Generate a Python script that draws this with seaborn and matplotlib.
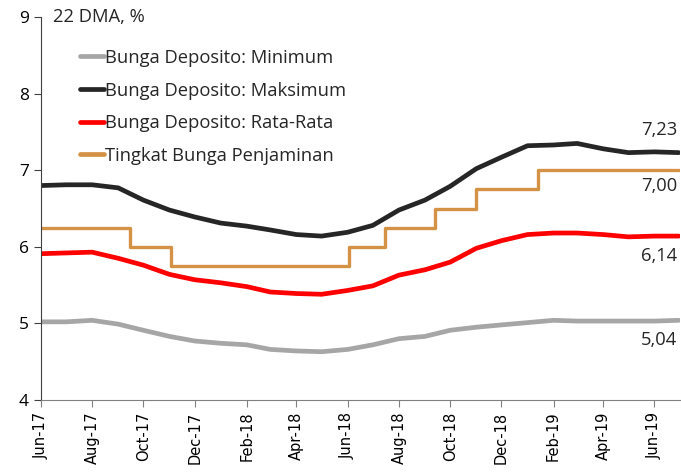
import matplotlib
matplotlib.use("Agg")
import matplotlib.pyplot as plt
import matplotlib.dates as mdates
import numpy as np
import pandas as pd
import seaborn as sns

# monthly readings (22 DMA, %)
dates = pd.to_datetime(['2017-06-01', '2017-07-01', '2017-08-01', '2017-09-01', '2017-10-01',
                        '2017-11-01', '2017-12-01', '2018-01-01', '2018-02-01', '2018-03-01',
                        '2018-04-01', '2018-05-01', '2018-06-01', '2018-07-01', '2018-08-01',
                        '2018-09-01', '2018-10-01', '2018-11-01', '2018-12-01', '2019-01-01',
                        '2019-02-01', '2019-03-01', '2019-04-01', '2019-05-01', '2019-06-01',
                        '2019-06-30'])
bunga_min = [5.02, 5.02, 5.04, 4.99, 4.91, 4.83, 4.77, 4.74, 4.72, 4.66, 4.64, 4.63, 4.66,
             4.72, 4.80, 4.83, 4.91, 4.95, 4.98, 5.01, 5.04, 5.03, 5.03, 5.03, 5.03, 5.04]
bunga_max = [6.80, 6.81, 6.81, 6.77, 6.61, 6.48, 6.39, 6.31, 6.27, 6.22, 6.16, 6.14, 6.19,
             6.28, 6.48, 6.61, 6.79, 7.02, 7.17, 7.32, 7.33, 7.35, 7.28, 7.23, 7.24, 7.23]
bunga_avg = [5.91, 5.92, 5.93, 5.85, 5.76, 5.64, 5.57, 5.53, 5.48, 5.41, 5.39, 5.38, 5.43,
             5.49, 5.63, 5.70, 5.80, 5.98, 6.08, 6.16, 6.18, 6.18, 6.16, 6.13, 6.14, 6.14]

# LPS guarantee rate: change dates and levels
lps_dates = pd.to_datetime(['2017-06-01', '2017-09-15', '2017-11-03', '2018-06-03', '2018-07-15',
                            '2018-09-13', '2018-11-01', '2019-01-13', '2019-06-30'])
lps_rate = [6.25, 6.00, 5.75, 6.00, 6.25, 6.50, 6.75, 7.00, 7.00]

labels = ['Bunga Deposito: Minimum', 'Bunga Deposito: Maksimum',
          'Bunga Deposito: Rata-Rata', 'Tingkat Bunga Penjaminan']
colors = ['#A6A6A6', '#262626', '#FF0000', '#D39245']
end_labels = ['5,04', '7,23', '6,14', '7,00']

df = pd.DataFrame({'date': dates, labels[0]: bunga_min, labels[1]: bunga_max, labels[2]: bunga_avg})
df = df.melt('date', var_name='series', value_name='rate')
lps = pd.DataFrame({'date': lps_dates, 'rate': lps_rate})

sns.set_style('ticks')
plt.rcParams['font.family'] = ['Open Sans', 'DejaVu Sans']

fig = plt.figure(figsize=(6.81, 4.75), dpi=100)
ax = fig.add_axes([0.060, 0.158, 0.938, 0.806])

sns.lineplot(data=df, x='date', y='rate', hue='series', hue_order=labels[:3],
             palette=colors[:3], linewidth=3.4, ax=ax, legend=False)
sns.lineplot(data=lps, x='date', y='rate', color=colors[3], linewidth=2.4,
             drawstyle='steps-post', ax=ax, legend=False)

ax.set_xlim(pd.Timestamp('2017-06-01'), pd.Timestamp('2019-07-01'))
ax.set_ylim(4, 9)
ax.set_yticks([4, 5, 6, 7, 8, 9])
ax.set_xticks(pd.date_range('2017-06-01', '2019-06-01', freq='2MS'))
ax.xaxis.set_major_formatter(mdates.DateFormatter('%b-%y'))
ax.set_xlabel('')
ax.set_ylabel('')
for s in ['top', 'right']:
    ax.spines[s].set_visible(False)
ax.spines['left'].set_color('#404040')
ax.spines['bottom'].set_color('#808080')
ax.tick_params(axis='y', labelsize=12.5, length=5, colors='#404040', labelcolor='black')
ax.tick_params(axis='x', labelsize=10.5, length=5, colors='#808080', labelcolor='black',
               labelrotation=90)
for t in ax.get_xticklabels():
    t.set_family('DejaVu Sans')

ax.text(0.019, 1.0, '22 DMA, %', transform=ax.transAxes, fontsize=13.2, va='center', ha='left')

handles = [plt.Line2D([], [], color=c, linewidth=3.4) for c in colors]
ax.legend(handles, labels, loc='upper left', bbox_to_anchor=(0.035, 0.96), frameon=False,
          fontsize=13.2, handlelength=1.3, handletextpad=0.1, labelspacing=0.8)

end_y = [4.78, 7.52, 5.88, 6.80]
for txt, yv in zip(end_labels, end_y):
    ax.text(0.996, yv, txt, transform=ax.get_yaxis_transform(), fontsize=13.2,
            ha='right', va='center')

fig.savefig('out.png', dpi=100)
